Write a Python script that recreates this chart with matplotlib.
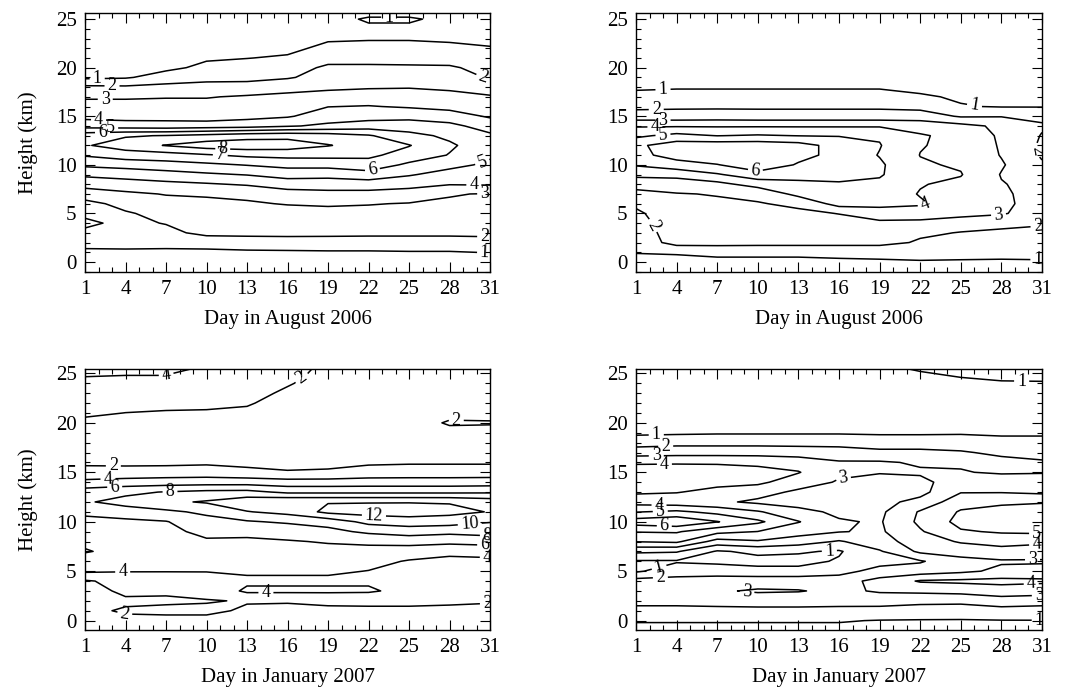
import numpy as np
import matplotlib
matplotlib.use("Agg")
import matplotlib.pyplot as plt
from matplotlib.ticker import MultipleLocator, FixedLocator

plt.rcParams['font.family'] = ['Liberation Serif', 'DejaVu Serif']

# grid: columns are days, each list runs from h=-1 km up to h=26 km (1 km step)
days = [1, 4, 7, 10, 13, 16, 19, 22, 25, 28, 31]
heights = list(range(-1, 27))

# August 2006, left panel
aug_left = [
    [.4, .6, .85, 1.25, 1.8, 2.2, 1.8, 1.7, 2.5, 3.35, 4.2, 5.2, 6.1, 6.9, 6.6, 4.6, 3.7, 3.3, 2.9, 2.2, .8, .6, .5, .4, .3, .3, .3, .3],
    [.4, .55, .8, 1.4, 1.6, 1.75, 1.9, 2.3, 2.8, 3.6, 4.35, 5.4, 6.5, 7.5, 6.9, 4.5, 3.6, 3.3, 2.9, 2.15, .9, .65, .5, .4, .35, .3, .3, .3],
    [.45, .6, .85, 1.25, 1.7, 2.05, 2.3, 2.65, 3.05, 3.75, 4.6, 5.6, 6.6, 8.05, 7.05, 4.4, 3.65, 3.3, 2.95, 2.3, 1.4, .8, .6, .5, .4, .35, .3, .3],
    [.45, .6, .85, 1.3, 2.3, 2.5, 2.6, 2.8, 3.1, 3.9, 4.85, 5.8, 6.9, 8.5, 7.3, 4.5, 3.5, 3.3, 2.95, 2.4, 1.65, 1.2, .9, .65, .5, .4, .35, .3],
    [.45, .6, .9, 1.35, 2.35, 2.55, 2.7, 2.9, 3.2, 4.1, 5.05, 6.05, 7.2, 8.6, 7.6, 4.6, 3.7, 3.35, 3.1, 2.4, 1.7, 1.35, .98, .75, .55, .45, .4, .35],
    [.45, .6, .92, 1.35, 2.4, 2.55, 2.65, 3.05, 3.6, 4.45, 5.4, 6.3, 7.3, 8.5, 7.7, 4.9, 3.9, 3.55, 3.2, 2.7, 1.9, 1.5, 1.1, .8, .6, .5, .45, .4],
    [.45, .65, .95, 1.3, 2.4, 2.55, 2.75, 3.1, 3.7, 4.5, 5.3, 6.35, 7.3, 8.05, 7.5, 5.2, 4.5, 3.98, 3.4, 2.8, 2.4, 2.2, 1.6, 1.2, .9, .75, .7, .5],
    [.45, .65, .95, 1.3, 2.35, 2.5, 2.7, 3.05, 3.7, 4.5, 5.6, 6.6, 7.2, 7.6, 7.1, 5.5, 4.6, 4.05, 3.5, 2.9, 2.5, 2.25, 1.5, 1.2, .95, .85, 1.1, .6],
    [.45, .65, .97, 1.3, 2.35, 2.5, 2.65, 2.95, 3.6, 4.3, 5.1, 5.8, 6.6, 7.05, 6.3, 5.5, 4.7, 3.9, 3.4, 2.95, 2.5, 2.2, 1.5, 1.2, .95, .85, 1.1, .6],
    [.45, .65, .97, 1.3, 2.35, 2.5, 2.65, 2.9, 3.05, 4.05, 4.6, 5.3, 5.95, 6.15, 5.8, 5.3, 4.4, 3.75, 3.35, 2.8, 2.5, 2.15, 1.5, 1.15, .9, .8, .8, .6],
    [.5, .7, 1.02, 1.55, 2.3, 2.4, 2.6, 2.8, 2.95, 4.1, 4.5, 4.8, 5.15, 5.4, 5.2, 4.5, 3.9, 3.5, 3.1, 2.5, 1.9, 1.6, 1.3, 1.05, .8, .7, .6, .55],
]

# August 2006, right panel
aug_right = [
    [.6, .85, 1.02, 1.3, 1.45, 1.6, 1.8, 2.2, 2.6, 3.5, 4.2, 5.1, 5.7, 5.8, 4.8, 3.9, 2.4, 1.8, 1.4, .8, .6, .5, .45, .4, .4, .4, .4, .4],
    [.6, .85, 1.05, 2.4, 2.5, 2.6, 2.7, 2.85, 2.95, 3.5, 4.3, 5.6, 6.4, 6.5, 5.3, 3.9, 2.4, 1.85, 1.4, .9, .65, .5, .45, .4, .4, .4, .4, .4],
    [.6, .85, 1.15, 2.4, 2.5, 2.6, 2.75, 2.85, 3.05, 3.7, 4.9, 5.95, 6.8, 6.6, 4.98, 3.9, 2.45, 1.85, 1.4, .9, .65, .5, .45, .4, .4, .4, .4, .4],
    [.6, .95, 1.05, 2.4, 2.55, 2.65, 2.8, 2.95, 3.2, 4.4, 5.6, 6.7, 6.9, 6.6, 5.1, 3.9, 2.4, 1.85, 1.4, .9, .65, .5, .45, .4, .4, .4, .4, .4],
    [.6, .95, 1.05, 2.4, 2.55, 2.7, 2.85, 3.15, 4.3, 4.8, 5.3, 5.9, 6.3, 6.4, 4.98, 3.9, 2.4, 1.85, 1.4, .9, .65, .5, .45, .4, .4, .4, .4, .4],
    [.6, .97, 1.05, 2.4, 2.6, 2.75, 3.02, 4.4, 4.7, 4.9, 5.3, 5.6, 5.7, 5.6, 4.95, 3.9, 2.4, 1.85, 1.4, .9, .65, .5, .45, .4, .4, .4, .4, .4],
    [.6, .98, 1.05, 2.4, 2.6, 2.8, 3.5, 4.3, 4.5, 4.8, 5.1, 5.15, 4.95, 5.05, 4.9, 3.9, 2.4, 1.85, 1.4, .9, .65, .5, .45, .4, .4, .4, .4, .4],
    [.6, .98, 1.1, 1.85, 2.2, 2.7, 3.6, 4.1, 3.95, 4.05, 4.2, 4.1, 3.98, 4.05, 4.1, 3.6, 2.5, 1.7, 1.1, .8, .6, .5, .45, .4, .4, .4, .4, .4],
    [.6, .97, 1.1, 1.7, 1.95, 2.5, 3.3, 3.6, 3.7, 3.8, 4.05, 3.9, 3.8, 3.75, 3.7, 3.3, 1.9, 1.05, .9, .75, .6, .5, .45, .4, .4, .4, .4, .4],
    [.6, .96, 1.1, 1.5, 1.8, 2.3, 3.1, 3.15, 3.1, 3.05, 2.95, 3.1, 2.95, 2.9, 2.85, 2.8, 1.95, .95, .8, .7, .6, .5, .45, .4, .4, .4, .4, .4],
    [.7, .97, 1.1, 1.4, 1.75, 2.1, 2.5, 2.7, 2.75, 2.7, 2.5, 2.1, 1.9, 1.85, 1.95, 2.1, 1.8, .95, .8, .7, .6, .5, .45, .4, .4, .4, .4, .4],
]

# January 2007, left panel
jan_left = [
    [1.5, 1.6, 1.8, 1.7, 1.6, 1.8, 4.3, 4.8, 6.2, 5.5, 5.0, 5.6, 6.3, 7.8, 7.0, 4.5, 2.6, 1.7, 1.5, 1.4, 1.4, 1.6, 2.3, 2.8, 3.2, 3.6, 4.2, 4.5],
    [1.6, 1.8, 2.1, 1.85, 2.2, 2.6, 4.1, 4.6, 5.2, 5.3, 5.3, 5.5, 7.2, 8.6, 7.6, 4.8, 2.7, 1.6, 1.4, 1.35, 1.4, 1.6, 1.98, 2.6, 3.1, 3.6, 4.1, 4.5],
    [1.6, 1.8, 2.15, 1.9, 2.1, 2.5, 4.1, 4.7, 5.2, 5.5, 5.6, 5.9, 7.6, 9.6, 8.1, 5.0, 2.8, 1.6, 1.4, 1.35, 1.4, 1.6, 1.9, 2.3, 2.95, 3.6, 4.1, 4.4],
    [1.6, 1.8, 2.15, 1.95, 2.3, 2.8, 4.1, 4.9, 5.3, 5.8, 6.4, 7.3, 8.4, 10.2, 8.5, 5.1, 2.9, 1.7, 1.4, 1.4, 1.5, 1.7, 1.9, 2.2, 2.6, 3.02, 3.5, 4.1],
    [1.55, 1.7, 1.9, 2.05, 4.4, 3.6, 4.3, 5.0, 5.5, 5.8, 6.3, 7.8, 9.9, 11.3, 8.6, 5.1, 2.5, 1.5, 1.4, 1.5, 1.6, 1.7, 1.9, 2.05, 2.2, 2.5, 2.8, 3.2],
    [1.5, 1.65, 1.85, 2.05, 4.4, 3.6, 4.3, 4.9, 5.4, 5.9, 6.6, 8.3, 10.6, 11.9, 7.6, 4.8, 2.15, 1.4, 1.35, 1.4, 1.5, 1.6, 1.7, 1.8, 1.9, 2.05, 2.2, 2.4],
    [1.5, 1.6, 1.8, 2.2, 4.4, 3.6, 4.3, 4.9, 5.6, 6.1, 7.4, 8.8, 12.5, 11.9, 7.6, 4.8, 2.3, 1.4, 1.3, 1.3, 1.35, 1.4, 1.5, 1.6, 1.7, 1.75, 1.8, 1.85],
    [1.45, 1.55, 1.75, 2.3, 4.3, 3.7, 3.95, 4.6, 5.5, 6.3, 8.4, 10.6, 12.8, 11.9, 7.6, 4.9, 2.8, 1.7, 1.4, 1.35, 1.3, 1.3, 1.3, 1.3, 1.3, 1.3, 1.3, 1.3],
    [1.45, 1.55, 1.75, 2.3, 3.3, 3.4, 3.6, 3.85, 5.0, 6.7, 8.9, 11.0, 13.0, 11.9, 7.6, 4.9, 2.9, 1.8, 1.5, 1.4, 1.35, 1.35, 1.35, 1.3, 1.3, 1.3, 1.3, 1.3],
    [1.45, 1.55, 1.8, 2.15, 3.0, 3.3, 3.5, 3.7, 4.3, 6.6, 8.5, 10.9, 12.6, 11.85, 7.6, 4.9, 2.9, 1.8, 1.5, 1.45, 1.6, 2.15, 1.6, 1.4, 1.35, 1.3, 1.3, 1.3],
    [1.4, 1.5, 1.7, 2.1, 2.8, 3.1, 3.4, 3.7, 4.5, 6.9, 8.8, 10.1, 11.9, 11.2, 7.7, 5.0, 2.9, 1.8, 1.5, 1.45, 1.6, 2.1, 1.6, 1.4, 1.35, 1.3, 1.3, 1.3],
]

# January 2007, right panel
jan_right = [
    [.8, 1.05, 1.7, 2.3, 2.5, 2.4, .85, .9, 2.2, 4.05, 5.05, 6.5, 4.95, 3.6, 4.1, 4.5, 4.4, 3.9, 2.5, 1.6, .8, .6, .5, .5, .5, .5, .5, .5],
    [.8, 1.05, 1.7, 2.3, 2.5, 2.3, 1.6, .9, 2.1, 4.2, 5.1, 6.8, 5.2, 3.4, 4.05, 4.5, 4.5, 3.9, 2.6, 1.7, .85, .6, .5, .5, .5, .5, .5, .5],
    [.8, 1.05, 1.7, 2.4, 2.9, 2.5, 1.5, .8, .9, 2.6, 4.3, 6.05, 4.7, 3.2, 3.7, 4.3, 4.4, 3.9, 2.6, 1.7, .9, .6, .5, .5, .5, .5, .5, .5],
    [.8, 1.05, 1.7, 2.5, 3.1, 2.6, 1.3, .7, 1.2, 2.9, 3.98, 5.2, 4.1, 2.8, 3.4, 4.2, 4.3, 3.8, 2.6, 1.7, .9, .6, .5, .5, .5, .5, .5, .5],
    [.8, 1.05, 1.7, 2.5, 3.05, 2.6, 1.3, .7, 1.1, 2.5, 3.4, 4.05, 3.3, 2.6, 2.8, 3.5, 4.05, 3.6, 2.5, 1.7, .9, .6, .5, .5, .5, .5, .5, .5],
    [.8, 1.05, 1.7, 2.4, 2.8, 2.6, 1.6, 1.1, .9, 1.9, 3.05, 3.1, 2.8, 2.7, 2.6, 2.9, 3.2, 3.1, 2.4, 1.7, .9, .6, .5, .5, .5, .5, .5, .5],
    [.85, .97, 1.6, 2.5, 3.1, 3.3, 2.4, 1.6, 1.9, 2.6, 2.85, 2.9, 2.8, 2.7, 2.6, 2.7, 3.05, 3.1, 2.3, 1.4, .9, .6, .55, .55, .6, .8, .9, .98],
    [.85, .95, 1.5, 2.3, 3.2, 4.1, 2.5, 1.9, 3.2, 3.5, 3.9, 4.2, 4.1, 3.3, 2.7, 2.8, 3.1, 2.9, 2.3, 1.4, .9, .6, .55, .5, .55, .8, .95, 1.2],
    [.85, .95, 1.4, 2.3, 3.3, 4.2, 2.8, 2.7, 3.4, 4.1, 4.9, 5.3, 5.1, 4.6, 3.95, 3.4, 3.05, 2.9, 2.1, 1.5, .9, .6, .55, .6, .7, .85, 1.1, 1.2],
    [.9, .97, 1.6, 2.6, 3.5, 4.3, 3.2, 2.9, 3.6, 4.4, 5.1, 5.6, 5.4, 4.8, 3.95, 3.5, 2.9, 2.3, 1.8, 1.3, .85, .65, .6, .6, .7, .95, 1.15, 1.25],
    [.9, .98, 1.5, 2.5, 3.4, 4.2, 3.3, 2.9, 3.5, 4.2, 5.2, 5.7, 5.6, 4.9, 3.8, 3.4, 2.95, 2.1, 1.7, 1.3, .85, .7, .65, .65, .75, .95, 1.2, 1.3],
]

levels_aug_left = [1, 2, 3, 4, 5, 6, 7, 8]
levels_aug_right = [1, 2, 3, 4, 5, 6]
levels_jan_left = [2, 4, 6, 8, 10, 12]
levels_jan_right = [1, 2, 3, 4, 5, 6]

# where the contour labels sit (day, km)
labels_aug_left = [(1.9, 19.1), (3.0, 17.8), (2.5, 16.6), (2.0, 14.5), (2.9, 13.8), (2.3, 13.1),
                   (11.2, 11.6), (11.0, 10.6), (22.3, 9.4), (30.3, 10.8), (29.8, 8.0),
                   (30.6, 7.2), (30.6, 2.5), (30.6, 1.0), (30.4, 18.6), (23.5, 25.0)]
labels_aug_right = [(3.0, 17.6), (26.0, 16.0), (2.5, 15.3), (3.0, 14.5), (2.4, 13.7), (3.0, 13.0),
                    (9.8, 9.2), (22.4, 5.7), (27.8, 4.6), (30.7, 3.8), (30.7, 0.3), (30.6, 11.5),
                    (3.3, 4.5)]
labels_jan_left = [(7.0, 24.9), (16.8, 25.0), (28.5, 20.3), (3.1, 15.7), (2.7, 14.3), (3.2, 13.5),
                   (7.3, 12.9), (22.4, 10.6), (29.5, 9.7), (30.8, 8.6), (30.6, 7.6), (30.8, 6.5),
                   (14.4, 3.0), (3.8, 4.0), (4.0, 1.0), (30.8, 1.9)]
labels_jan_right = [(2.5, 18.6), (3.2, 17.3), (2.5, 16.5), (3.1, 15.7), (2.7, 11.6), (2.8, 10.8),
                    (3.1, 10.0), (15.3, 6.7), (2.8, 4.9), (2.8, 4.4), (9.2, 3.0), (16.3, 14.7),
                    (30.6, 8.8), (30.6, 7.7), (30.3, 6.2), (30.2, 3.9), (30.8, 2.7), (30.8, 0.6),
                    (29.5, 24.5)]

fig = plt.figure(figsize=(10.67, 6.88), dpi=100)

panels = [
    ([85 / 1067, 0.6051, 0.3796, 0.3756], aug_left, levels_aug_left, labels_aug_left,
     'Day in August 2006', (-1.0, 25.6), True),
    ([636 / 1067, 0.6051, 0.3805, 0.3756], aug_right, levels_aug_right, labels_aug_right,
     'Day in August 2006', (-1.0, 25.6), False),
    ([85 / 1067, 0.0843, 0.3796, 0.3794], jan_left, levels_jan_left, labels_jan_left,
     'Day in January 2007', (-0.95, 25.45), True),
    ([636 / 1067, 0.0843, 0.3805, 0.3794], jan_right, levels_jan_right, labels_jan_right,
     'Day in January 2007', (-0.95, 25.45), False),
]

for rect, cols, levels, lab_pos, xlabel, ylim, left in panels:
    ax = fig.add_axes(rect)
    z = np.array(cols).T
    ax.set_xlim(1, 31)
    ax.set_ylim(*ylim)
    cs = ax.contour(days, heights, z, levels=levels, colors='k', linewidths=1.1)
    ax.clabel(cs, manual=lab_pos, inline=True, inline_spacing=3, fmt='%d', fontsize=13)

    ax.xaxis.set_major_locator(FixedLocator(list(range(1, 32, 3))))
    ax.xaxis.set_minor_locator(MultipleLocator(1))
    ax.yaxis.set_major_locator(FixedLocator([0, 5, 10, 15, 20, 25]))
    ax.yaxis.set_minor_locator(MultipleLocator(1))
    ax.tick_params(which='both', direction='in', top=True, right=True, width=0.8)
    ax.tick_params(which='major', length=7, labelsize=15, pad=6)
    ax.tick_params(which='minor', length=3.5)
    for s in ax.spines.values():
        s.set_linewidth(1.0)
    ax.set_xlabel(xlabel, fontsize=15, labelpad=8)
    if left:
        ax.set_ylabel('Height (km)', fontsize=15, labelpad=13)

fig.savefig('out.png', dpi=100)
